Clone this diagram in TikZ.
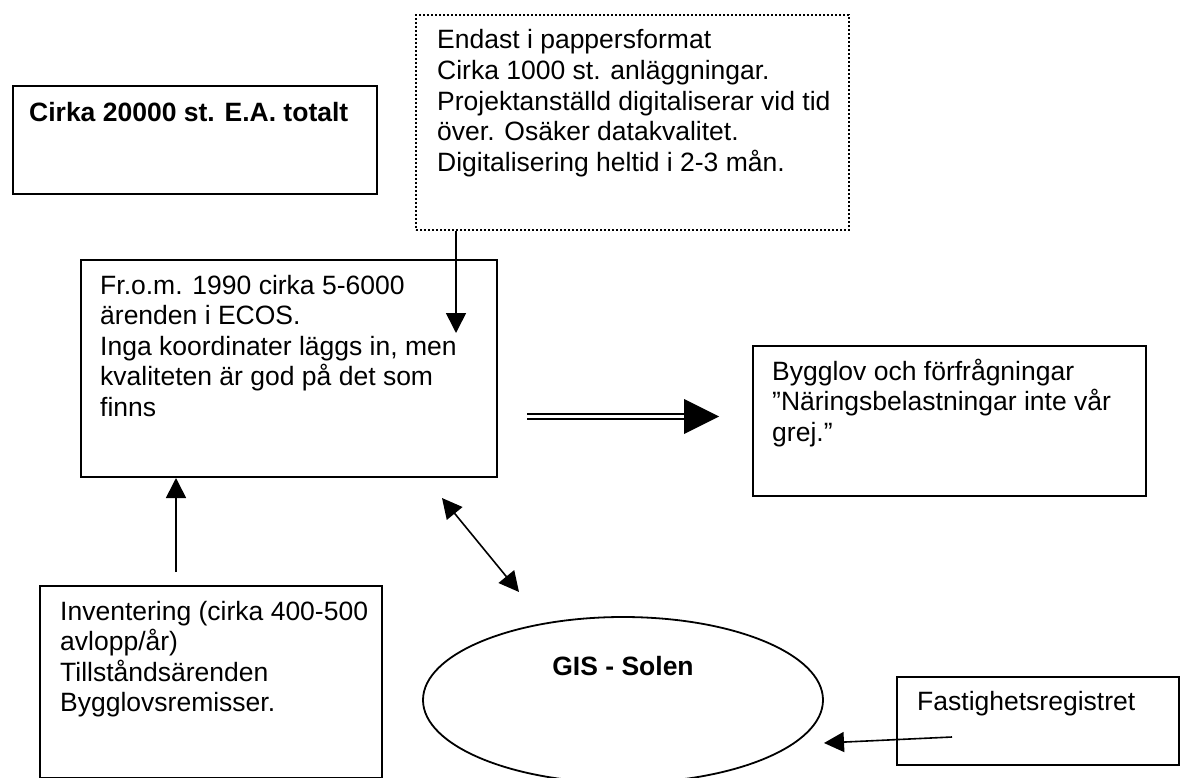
\documentclass[tikz,border=0pt]{standalone}
\usepackage{fontspec}
\setmainfont{Liberation Sans}
\usetikzlibrary{arrows.meta,shapes.geometric,calc}
\newcommand{\lines}[1]{\begin{tabular}[t]{@{}l@{}}#1\end{tabular}}
\begin{document}
\begin{tikzpicture}[x=1pt,y=-1pt,
  >={Triangle[length=20pt,width=20pt]},
  box/.style={draw, line width=2pt, inner sep=0pt, anchor=north west},
  txt/.style={anchor=base west, inner sep=0pt, font=\fontsize{26.5}{30.6}\selectfont},
  btxt/.style={anchor=base west, inner sep=0pt, font=\fontsize{26.5}{30.6}\selectfont\bfseries},
  arr/.style={line width=1.6pt, ->},
]
\useasboundingbox (0,0) rectangle (1190,778);
\renewcommand{\arraystretch}{1}
\setlength{\tabcolsep}{0pt}

% boxes
\node[box, minimum width=364pt, minimum height=108pt] (A) at (12,85) {};
\node[btxt] (At) at (29,122) {Cirka 20000 st. E.A. totalt};

\node[box, line width=2pt, dash pattern=on 2pt off 2pt, minimum width=433pt, minimum height=215pt] (D) at (415,14) {};
\node[txt] (Dt) at (437,49) {\lines{Endast i pappersformat\\Cirka 1000 st. anläggningar.\\Projektanställd digitaliserar vid tid\\över. Osäker datakvalitet.\\Digitalisering heltid i 2-3 mån.}};

\node[box, minimum width=416pt, minimum height=217pt] (M) at (80,259) {};
\node[txt] (Mt) at (100,294) {\lines{Fr.o.m. 1990 cirka 5-6000\\ärenden i ECOS.\\Inga koordinater läggs in, men\\kvaliteten är god på det som\\finns}};

\node[box, minimum width=393pt, minimum height=150pt] (B) at (752,345) {};
\node[txt] (Bt) at (772,380) {\lines{Bygglov och förfrågningar\\”Näringsbelastningar inte vår\\grej.”}};

\node[box, minimum width=342pt, minimum height=192pt] (I) at (39,585) {};
\node[txt] (It) at (60,620) {\lines{Inventering (cirka 400-500\\avlopp/år)\\Tillståndsärenden\\Bygglovsremisser.}};

\node[draw, ellipse, line width=1.8pt, inner sep=0pt, minimum width=400pt, minimum height=166pt] (G) at (623,700) {};
\node[anchor=base, inner sep=0pt, font=\fontsize{26.5}{30.6}\selectfont\bfseries] (Gt) at (623,675) {GIS - Solen};

\node[box, minimum width=282pt, minimum height=88pt] (F) at (896,676) {};
\node[txt] (Ft) at (917,710) {Fastighetsregistret};

% connectors
\coordinate (dTip) at (456,333);
\draw[arr] (D.south -| dTip) -- (dTip);

\coordinate (iStart) at (176,572);
\draw[arr] (iStart) -- (iStart |- M.south);

\coordinate (g1) at (442,498);
\coordinate (g2) at (519,592);
\draw[arr, <->] (g1) -- (g2);

\coordinate (b1) at (527,416.5);
\coordinate (b2) at (684,416.5);
\coordinate (b3) at (719,416.5);
\draw[line width=1.8pt, double, double distance=3pt] (b1) -- (b2);
\fill ($(b2)+(0,-17.5)$) -- (b3) -- ($(b2)+(0,17.5)$) -- cycle;

\coordinate (fStart) at (952,737);
\coordinate (fTip) at (824,743);
\draw[arr] (fStart) -- (fTip);
\end{tikzpicture}
\end{document}
